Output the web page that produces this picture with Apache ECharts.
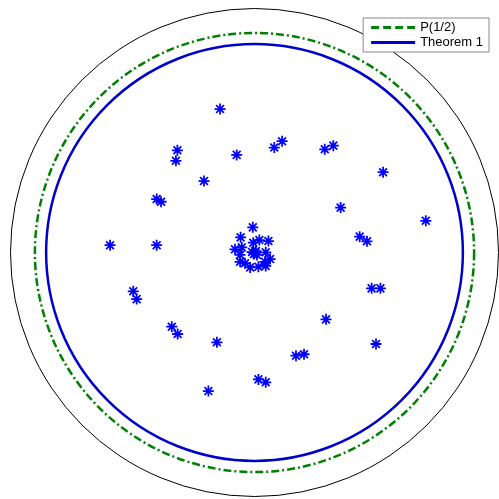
<!DOCTYPE html>
<html>
<head>
<meta charset="utf-8">
<script src="https://cdn.jsdelivr.net/npm/echarts@6/dist/echarts.min.js"></script>
<style>html,body{margin:0;padding:0;background:#fff;}#c{width:499px;height:499px;}</style>
</head>
<body>
<div id="c"></div>
<script>
// Point data (real / imaginary parts)
var pointsRe = [-0.141,-0.316,-0.322,-0.073,-0.207,-0.401,-0.383,-0.592,-0.401,
  0.081,0.113,0.288,0.323,0.527,0.353,0.702,0.431,0.461,0.480,0.516,
  -0.497,-0.483,-0.339,-0.315,-0.154,-0.189,0.016,0.046,0.293,0.498,0.170,0.203,
  -0.007,-0.057,-0.005,0.020,0.057,-0.080,-0.052,-0.010,0.006,0.010,-0.002,0.003,
  0.046,-0.059,0.064,-0.059,0.043,-0.018,0.016,0.046,-0.039];
var pointsIm = [0.588,0.419,0.376,0.400,0.293,0.219,0.208,0.030,0.030,
  0.430,0.456,0.423,0.438,0.329,0.184,0.130,0.065,0.046,-0.147,-0.147,
  -0.159,-0.191,-0.304,-0.334,-0.368,-0.568,-0.520,-0.532,-0.274,-0.375,-0.423,-0.417,
  0.103,0.062,0.040,0.051,0.047,0.013,0.021,0.002,0.006,-0.010,-0.006,0.000,
  0.001,-0.010,-0.027,-0.038,-0.038,-0.061,-0.058,-0.055,-0.044];
// Circle radii
var circleNames = ['', 'P(1/2)', 'Theorem 1'];
var circleRadii = [1.0, 0.90, 0.854];
var circleColors = ['#000000', '#008000', '#0000CC'];

var scatterData = pointsRe.map(function (re, i) { return [re, pointsIm[i]]; });

var asterisk = 'path://M0 8.4L20 8.4L20 11.6L0 11.6Z M8.4 0L11.6 0L11.6 20L8.4 20Z ' +
  'M1.77 4.03L4.03 1.77L18.23 15.97L15.97 18.23Z M15.97 1.77L18.23 4.03L4.03 18.23L1.77 15.97Z';

function circleSeries(i) {
  var styles = [
    { lineWidth: 1, lineDash: null },
    { lineWidth: 2.5, lineDash: [8, 3, 2, 3] },
    { lineWidth: 2.5, lineDash: null }
  ];
  return {
    type: 'custom',
    name: circleNames[i] || undefined,
    coordinateSystem: 'cartesian2d',
    silent: true,
    itemStyle: { color: circleColors[i] },
    data: [[0, 0, circleRadii[i]]],
    renderItem: function (params, api) {
      var c = api.coord([api.value(0), api.value(1)]);
      var r = api.size([api.value(2), 0])[0];
      return {
        type: 'circle',
        shape: { cx: c[0], cy: c[1], r: r },
        style: {
          fill: 'none',
          stroke: circleColors[i],
          lineWidth: styles[i].lineWidth,
          lineDash: styles[i].lineDash
        }
      };
    }
  };
}

var chart = echarts.init(document.getElementById('c'), null, { renderer: 'canvas' });
chart.setOption({
  animation: false,
  backgroundColor: '#ffffff',
  grid: { left: 10.5, top: 8.5, width: 488, height: 488, containLabel: false },
  xAxis: { type: 'value', min: -1, max: 1, show: false },
  yAxis: { type: 'value', min: -1, max: 1, show: false },
  legend: {
    orient: 'vertical',
    right: 10,
    top: 18,
    selectedMode: false,
    backgroundColor: '#ffffff',
    borderColor: '#888888',
    borderWidth: 1,
    borderRadius: 0,
    padding: [2, 6, 2, 8],
    itemGap: 0,
    itemWidth: 44,
    itemHeight: 3,
    textStyle: { fontFamily: 'Liberation Sans, Arial, sans-serif', fontSize: 13, color: '#000', lineHeight: 15, padding: [0, 0, 0, 0] },
    z: 10,
    data: [
      { name: 'P(1/2)', icon: 'path://M0 0L8 0L8 3L0 3Z M12 0L20 0L20 3L12 3Z M24 0L32 0L32 3L24 3Z M36 0L44 0L44 3L36 3Z', itemStyle: { color: '#008000' } },
      { name: 'Theorem 1', icon: 'path://M0 0L44 0L44 3L0 3Z', itemStyle: { color: '#0000CC' } }
    ]
  },
  series: [
    circleSeries(0),
    circleSeries(1),
    circleSeries(2),
    {
      type: 'scatter',
      silent: true,
      symbol: asterisk,
      symbolSize: 11,
      itemStyle: { color: '#0000FF', opacity: 1 },
      data: scatterData,
      z: 5
    }
  ]
});
</script>
</body>
</html>
